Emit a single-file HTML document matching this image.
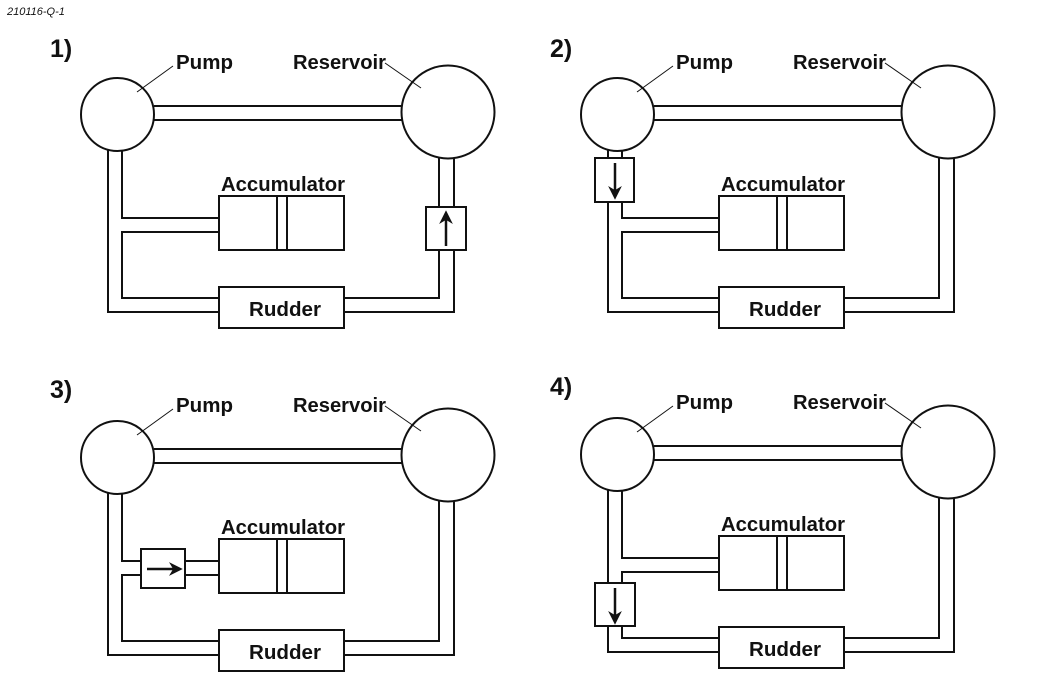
<!DOCTYPE html>
<html><head><meta charset="utf-8"><style>
html,body{margin:0;padding:0;background:#fff;}
svg{display:block;}
text{font-family:"Liberation Sans",sans-serif;fill:#111;}
</style></head><body>
<svg width="1055" height="679" viewBox="0 0 1055 679" xmlns="http://www.w3.org/2000/svg">
<defs>
<marker id="ah" viewBox="0 0 10 10" refX="8" refY="5" markerWidth="5.5" markerHeight="5.5" markerUnits="strokeWidth" orient="auto"><path d="M0,0 L10,5 L0,10 L3,5 z" fill="#111"/></marker>
</defs>
<text x="7" y="15" font-size="11" font-style="italic">210116-Q-1</text>

<!-- Diagram 1 -->
<g transform="translate(0,0)" stroke="#111" stroke-width="2" fill="none">
<path d="M154,106 H402 M154,120 H402"/>
<path d="M108,150 V312 H219 M122,151 V218 H219 M219,232 H122 V298 H219"/>
<path d="M439,157 V298 H344 M454,157 V312 H344"/>
<circle cx="117.5" cy="114.5" r="36.5" fill="#fff"/>
<circle cx="448" cy="112" r="46.5" fill="#fff"/>
<line x1="173" y1="66" x2="137" y2="92" stroke-width="1"/>
<line x1="385" y1="63" x2="421" y2="88" stroke-width="1"/>
<rect x="219" y="196" width="125" height="54" fill="#fff"/>
<path d="M277,196 V250 M287,196 V250"/>
<rect x="219" y="287" width="125" height="41" fill="#fff"/>
<rect x="426" y="207" width="40" height="43" fill="#fff"/>
<line x1="446" y1="246" x2="446" y2="213" stroke-width="2.5" marker-end="url(#ah)"/>
<g stroke="none" font-weight="bold">
<text x="50" y="57" font-size="25">1)</text>
<text x="176" y="69" font-size="20" textLength="57" lengthAdjust="spacingAndGlyphs">Pump</text>
<text x="293" y="69" font-size="20" textLength="93" lengthAdjust="spacingAndGlyphs">Reservoir</text>
<text x="221" y="191" font-size="20" textLength="124" lengthAdjust="spacingAndGlyphs">Accumulator</text>
<text x="249" y="316" font-size="20" textLength="72" lengthAdjust="spacingAndGlyphs">Rudder</text>
</g>
</g>

<!-- Diagram 2 -->
<g transform="translate(500,0)" stroke="#111" stroke-width="2" fill="none">
<path d="M154,106 H402 M154,120 H402"/>
<path d="M108,150 V312 H219 M122,151 V218 H219 M219,232 H122 V298 H219"/>
<path d="M439,157 V298 H344 M454,157 V312 H344"/>
<circle cx="117.5" cy="114.5" r="36.5" fill="#fff"/>
<circle cx="448" cy="112" r="46.5" fill="#fff"/>
<line x1="173" y1="66" x2="137" y2="92" stroke-width="1"/>
<line x1="385" y1="63" x2="421" y2="88" stroke-width="1"/>
<rect x="219" y="196" width="125" height="54" fill="#fff"/>
<path d="M277,196 V250 M287,196 V250"/>
<rect x="219" y="287" width="125" height="41" fill="#fff"/>
<rect x="95" y="158" width="39" height="44" fill="#fff"/>
<line x1="115" y1="163" x2="115" y2="197" stroke-width="2.5" marker-end="url(#ah)"/>
<g stroke="none" font-weight="bold">
<text x="50" y="57" font-size="25">2)</text>
<text x="176" y="69" font-size="20" textLength="57" lengthAdjust="spacingAndGlyphs">Pump</text>
<text x="293" y="69" font-size="20" textLength="93" lengthAdjust="spacingAndGlyphs">Reservoir</text>
<text x="221" y="191" font-size="20" textLength="124" lengthAdjust="spacingAndGlyphs">Accumulator</text>
<text x="249" y="316" font-size="20" textLength="72" lengthAdjust="spacingAndGlyphs">Rudder</text>
</g>
</g>

<!-- Diagram 3 -->
<g transform="translate(0,343)" stroke="#111" stroke-width="2" fill="none">
<path d="M154,106 H402 M154,120 H402"/>
<path d="M108,150 V312 H219 M122,151 V218 H219 M219,232 H122 V298 H219"/>
<path d="M439,157 V298 H344 M454,157 V312 H344"/>
<circle cx="117.5" cy="114.5" r="36.5" fill="#fff"/>
<circle cx="448" cy="112" r="46.5" fill="#fff"/>
<line x1="173" y1="66" x2="137" y2="92" stroke-width="1"/>
<line x1="385" y1="63" x2="421" y2="88" stroke-width="1"/>
<rect x="219" y="196" width="125" height="54" fill="#fff"/>
<path d="M277,196 V250 M287,196 V250"/>
<rect x="219" y="287" width="125" height="41" fill="#fff"/>
<rect x="141" y="206" width="44" height="39" fill="#fff"/>
<line x1="147" y1="226" x2="180" y2="226" stroke-width="2.5" marker-end="url(#ah)"/>
<g stroke="none" font-weight="bold">
<text x="50" y="55" font-size="25">3)</text>
<text x="176" y="69" font-size="20" textLength="57" lengthAdjust="spacingAndGlyphs">Pump</text>
<text x="293" y="69" font-size="20" textLength="93" lengthAdjust="spacingAndGlyphs">Reservoir</text>
<text x="221" y="191" font-size="20" textLength="124" lengthAdjust="spacingAndGlyphs">Accumulator</text>
<text x="249" y="316" font-size="20" textLength="72" lengthAdjust="spacingAndGlyphs">Rudder</text>
</g>
</g>

<!-- Diagram 4 -->
<g transform="translate(500,340)" stroke="#111" stroke-width="2" fill="none">
<path d="M154,106 H402 M154,120 H402"/>
<path d="M108,150 V312 H219 M122,151 V218 H219 M219,232 H122 V298 H219"/>
<path d="M439,157 V298 H344 M454,157 V312 H344"/>
<circle cx="117.5" cy="114.5" r="36.5" fill="#fff"/>
<circle cx="448" cy="112" r="46.5" fill="#fff"/>
<line x1="173" y1="66" x2="137" y2="92" stroke-width="1"/>
<line x1="385" y1="63" x2="421" y2="88" stroke-width="1"/>
<rect x="219" y="196" width="125" height="54" fill="#fff"/>
<path d="M277,196 V250 M287,196 V250"/>
<rect x="219" y="287" width="125" height="41" fill="#fff"/>
<rect x="95" y="243" width="40" height="43" fill="#fff"/>
<line x1="115" y1="248" x2="115" y2="282" stroke-width="2.5" marker-end="url(#ah)"/>
<g stroke="none" font-weight="bold">
<text x="50" y="55" font-size="25">4)</text>
<text x="176" y="69" font-size="20" textLength="57" lengthAdjust="spacingAndGlyphs">Pump</text>
<text x="293" y="69" font-size="20" textLength="93" lengthAdjust="spacingAndGlyphs">Reservoir</text>
<text x="221" y="191" font-size="20" textLength="124" lengthAdjust="spacingAndGlyphs">Accumulator</text>
<text x="249" y="316" font-size="20" textLength="72" lengthAdjust="spacingAndGlyphs">Rudder</text>
</g>
</g>
</svg>
</body></html>
